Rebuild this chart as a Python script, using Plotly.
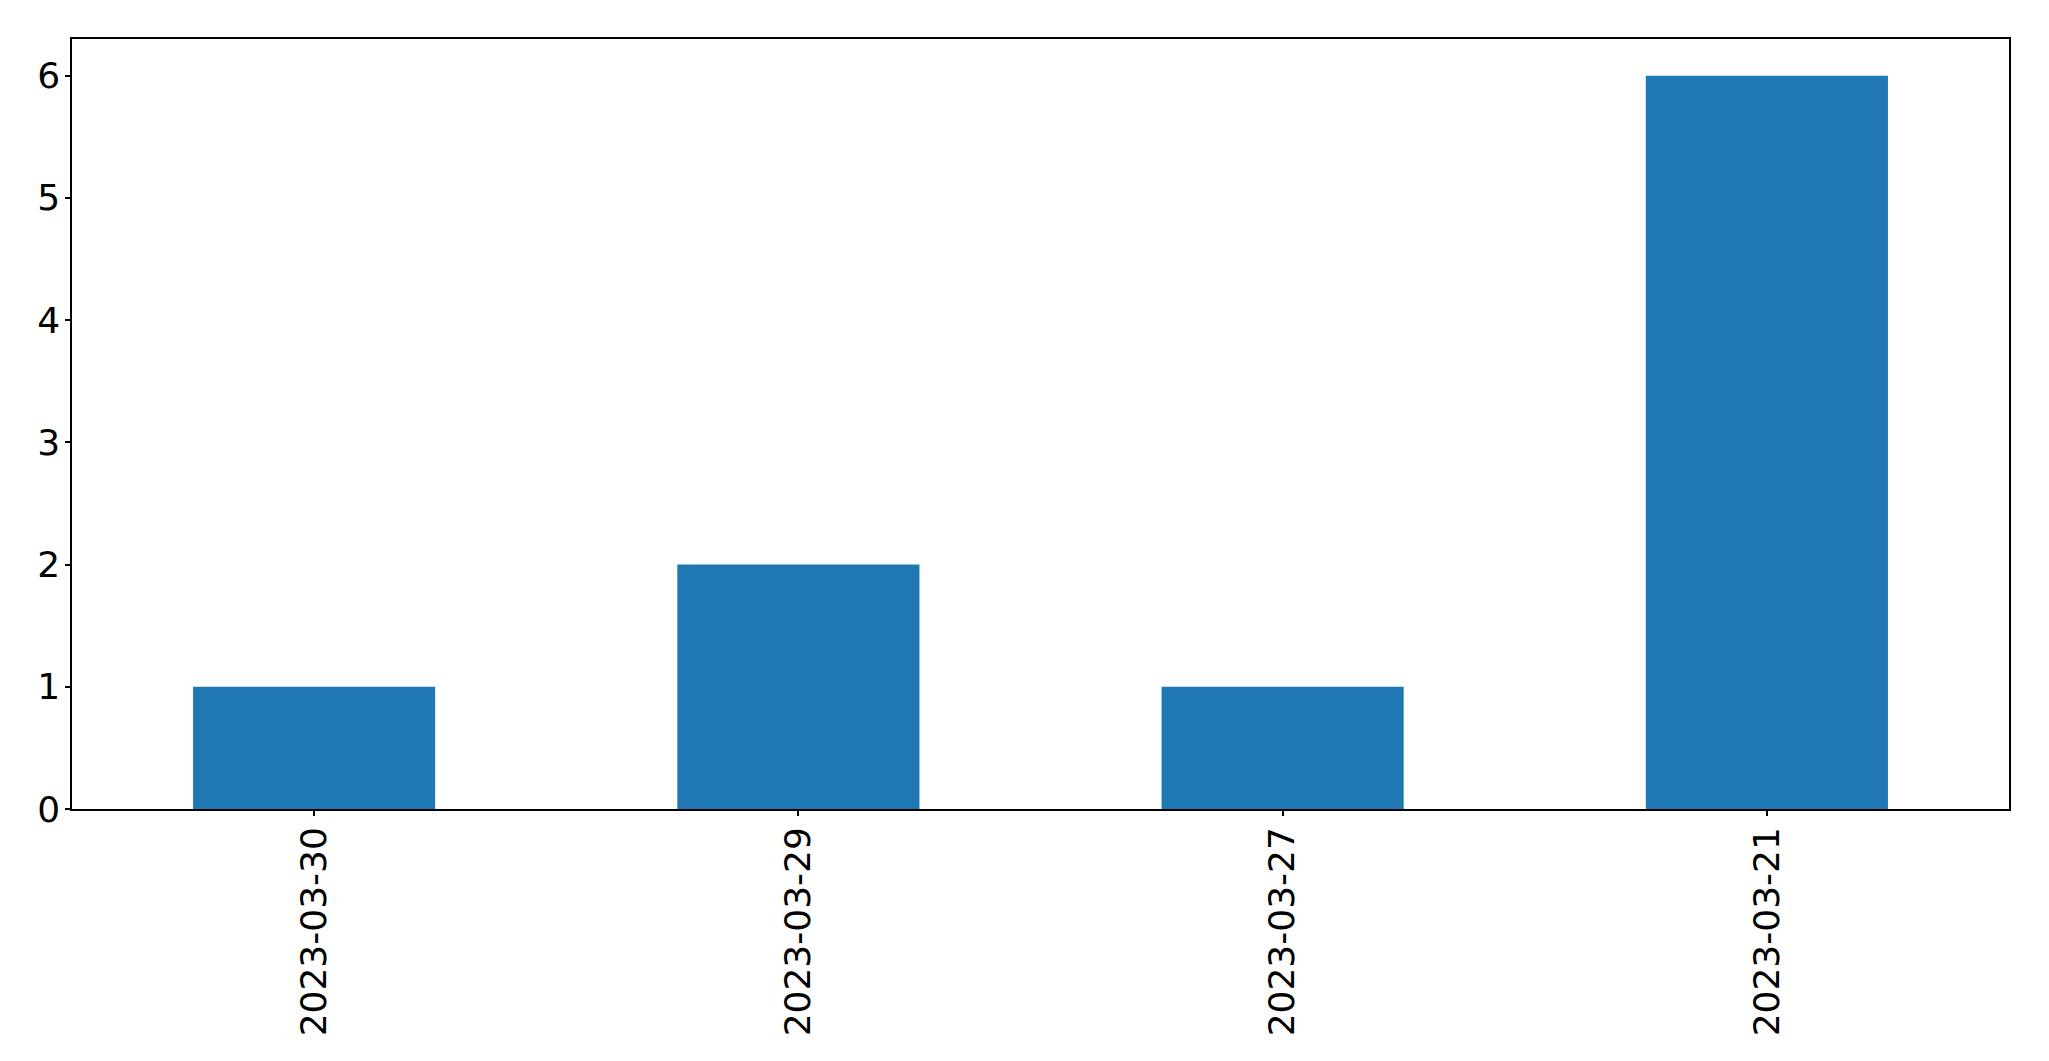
import plotly.graph_objects as go

# counts per date, in the order shown
dates = ["2023-03-30", "2023-03-29", "2023-03-27", "2023-03-21"]
counts = [1, 2, 1, 6]

y_ticks = [0, 1, 2, 3, 4, 5, 6]

BAR_COLOR = "#1f77b4"

fig = go.Figure(
    go.Bar(x=dates, y=counts, marker=dict(color=BAR_COLOR, line=dict(width=0)))
)

axis_style = dict(
    showline=True,
    linecolor="black",
    linewidth=1.5,
    mirror=True,
    showgrid=False,
    zeroline=False,
    ticks="outside",
    ticklen=5,
    tickwidth=1.5,
    tickcolor="black",
    tickfont=dict(family="DejaVu Sans", size=36, color="black"),
)

fig.update_xaxes(type="category", tickangle=-90, range=[-0.5, 3.5],
                 ticklabelstandoff=-3, **axis_style)
fig.update_yaxes(range=[0, 6.3], tickvals=y_ticks, ticklabelstandoff=-2, **axis_style)

# page body adds 8px around the figure, so size/margins are trimmed to suit
fig.update_layout(
    width=2033,
    height=1045,
    bargap=0.5,
    plot_bgcolor="white",
    paper_bgcolor="white",
    showlegend=False,
    margin=dict(l=64, r=32, t=31, b=244),
)

fig.write_html("out.html")
